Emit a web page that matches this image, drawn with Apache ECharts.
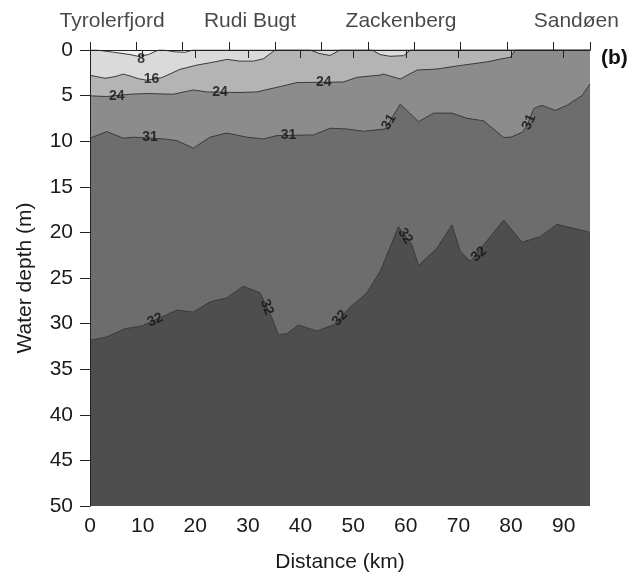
<!DOCTYPE html>
<html>
<head>
<meta charset="utf-8">
<title>Salinity section</title>
<script src="https://cdn.jsdelivr.net/npm/echarts@6/dist/echarts.min.js"></script>
<style>
  html, body { margin: 0; padding: 0; background: #ffffff; }
  #chart { width: 631px; height: 578px; }
</style>
</head>
<body>
<div id="chart"></div>
<script>
// Salinity isolines along the section: [distance km, depth m]
const contour8 = [[0,0],[1.3,0],[4.5,0.25],[7.6,0.5],[9.2,0.7],[11.1,0.5],[13.0,0],[13.9,0],[16.2,0.2],[18.1,0.25],[19.6,0],[95,0]];
const contour16 = [[0,2.78],[2.85,3.10],[4.75,2.92],[6.33,2.64],[7.61,2.85],[9.18,3.14],[10.78,3.32],[13.63,3.03],[17.11,2.12],[20.29,1.66],[23.45,1.33],[26.0,1.03],[28.52,1.22],[31.05,1.22],[32.95,0.96],[35.18,0],[41.8,0],[43.7,0.4],[45.6,0.6],[47.5,0],[53.6,0],[55.1,0.5],[57.0,0.69],[59.6,0.62],[60.9,0],[95,0]];
const contour24 = [[0,5.03],[3.18,5.10],[7.61,4.85],[10.78,4.77],[15.84,4.85],[19.64,4.38],[22.19,4.60],[28.52,4.66],[31.70,4.60],[36.13,4.01],[39.30,3.57],[48.17,3.51],[50.7,3.0],[55.14,2.75],[55.77,2.64],[58.95,3.18],[62.12,2.20],[65.92,2.09],[69.73,1.75],[72.89,1.5],[75.43,1.3],[77.96,1.0],[79.86,0.8],[80.81,0],[95,0]];
const contour31 = [[0,9.67],[3.18,8.95],[6.33,9.67],[8.23,9.56],[13.94,9.75],[16.49,9.93],[19.64,10.76],[22.82,9.56],[25.99,9.10],[29.80,9.56],[32.95,9.75],[35.50,9.39],[42.46,9.31],[45.64,8.58],[48.81,8.66],[51.97,8.91],[56.09,8.66],[58.95,5.94],[62.43,7.86],[65.28,6.92],[68.78,6.92],[71.63,7.49],[74.79,7.76],[78.6,9.6],[80.0,9.55],[82.2,9.0],[83.0,8.3],[84.3,6.45],[84.9,6.26],[85.9,6.08],[88.4,6.62],[90.6,6.08],[93.5,4.99],[95,3.73]];
const contour32 = [[0,31.83],[3.18,31.46],[6.66,30.56],[9.83,30.26],[16.49,28.52],[19.64,28.74],[22.82,27.61],[25.99,27.18],[29.15,25.90],[32.32,26.63],[34.55,29.36],[35.80,31.24],[37.40,31.10],[39.61,30.15],[43.11,30.81],[46.26,30.15],[49.44,28.19],[52.61,26.63],[55.14,24.27],[58.62,19.37],[61.17,21.37],[62.43,23.62],[65.92,21.73],[68.78,19.19],[70.36,22.09],[72.26,23.18],[78.59,18.65],[82.09,21.08],[85.57,20.46],[88.74,19.12],[95,19.99]];

// Isoline labels: [text, distance km, depth m, rotation deg]
const isoLabels = [
  ['8', 9.7, 1.05, 0],
  ['16', 11.7, 3.2, 0],
  ['24', 5.1, 5.1, 0],
  ['24', 24.7, 4.6, 0],
  ['24', 44.4, 3.55, 0],
  ['31', 11.4, 9.6, 0],
  ['31', 37.7, 9.35, 0],
  ['31', 56.8, 7.9, 59],
  ['31', 83.4, 7.9, 65],
  ['32', 12.4, 29.6, 24],
  ['32', 33.6, 28.2, -70],
  ['32', 47.5, 29.4, 47],
  ['32', 59.9, 20.4, -56],
  ['32', 73.9, 22.4, 42]
];

// Place names along the section: [name, distance km]
const stations = [['Tyrolerfjord', 4.2], ['Rudi Bugt', 30.4], ['Zackenberg', 59.1], ['Sandøen', 92.4]];

// Tick values
const distanceTicks = [0, 10, 20, 30, 40, 50, 60, 70, 80, 90];
const topTicks = [0, 8.8, 17.6, 26.4, 35.2, 44, 52.8, 61.6, 70.4, 79.2, 88, 95];
const depthTicks = [0, 5, 10, 15, 20, 25, 30, 35, 40, 45, 50];

const FONT = 'Liberation Sans, Arial, Helvetica, sans-serif';
const LINE = '#3a3a3a';

// Shade below each isoline
const bands = [
  { data: contour8, fill: '#dadada' },
  { data: contour16, fill: '#b4b4b4' },
  { data: contour24, fill: '#8c8c8c' },
  { data: contour31, fill: '#6d6d6d' },
  { data: contour32, fill: '#4e4e4e' }
];

const chart = echarts.init(document.getElementById('chart'), null, { renderer: 'canvas' });

const bandSeries = bands.map(b => ({
  type: 'line',
  data: b.data,
  symbol: 'none',
  silent: true,
  animation: false,
  lineStyle: { color: LINE, width: 1 },
  areaStyle: { color: b.fill, opacity: 1, origin: 'end' },
  z: 2
}));

const option = {
  animation: false,
  textStyle: { fontFamily: FONT },
  grid: {
    left: 90, top: 50, right: 41, bottom: 68,
    show: true, backgroundColor: '#f2f2f2', borderWidth: 0
  },
  xAxis: [
    {
      type: 'value', position: 'bottom', min: 0, max: 95, interval: 10,
      name: 'Distance (km)', nameLocation: 'middle', nameGap: 46,
      nameTextStyle: { fontSize: 21, color: '#1a1a1a', fontFamily: FONT },
      axisLine: { show: true, lineStyle: { color: '#222', width: 1 } },
      axisTick: { show: true, length: 8, customValues: distanceTicks, lineStyle: { color: '#222' } },
      axisLabel: { customValues: distanceTicks, margin: 10, fontSize: 21, color: '#1a1a1a', fontFamily: FONT },
      splitLine: { show: false },
      z: 10
    },
    {
      type: 'value', position: 'top', min: 0, max: 95, interval: 8.8,
      axisLine: { show: true, lineStyle: { color: '#222', width: 1 } },
      axisTick: { show: true, length: 8, customValues: topTicks, lineStyle: { color: '#222' } },
      axisLabel: { show: false },
      splitLine: { show: false },
      z: 10
    }
  ],
  yAxis: [
    {
      type: 'value', inverse: true, min: 0, max: 50, interval: 5,
      name: 'Water depth (m)', nameLocation: 'middle', nameGap: 54, nameRotate: 90,
      nameTextStyle: { fontSize: 21, color: '#1a1a1a', fontFamily: FONT },
      axisLine: { show: true, lineStyle: { color: '#222', width: 1 } },
      axisTick: { show: true, length: 10, customValues: depthTicks, lineStyle: { color: '#222' } },
      axisLabel: { customValues: depthTicks, margin: 17, fontSize: 21, color: '#1a1a1a', fontFamily: FONT },
      splitLine: { show: false },
      z: 10
    },
    {
      type: 'value', position: 'right', inverse: true, min: 0, max: 50,
      axisLine: { show: true, lineStyle: { color: '#222', width: 1 } },
      axisTick: { show: false },
      axisLabel: { show: false },
      splitLine: { show: false },
      z: 10
    }
  ],
  series: bandSeries.concat([
    {
      type: 'scatter',
      symbolSize: 0,
      silent: true,
      z: 6,
      data: isoLabels.map(l => ({
        name: l[0],
        value: [l[1], l[2]],
        label: { rotate: l[3] }
      })),
      label: {
        show: true, position: 'inside', formatter: '{b}',
        fontSize: 14, fontWeight: 'bold', color: '#111', fontFamily: FONT
      }
    },
    {
      type: 'scatter',
      symbolSize: 0,
      silent: true,
      clip: false,
      z: 6,
      data: stations.map(s => ({ name: s[0], value: [s[1], 0] })),
      label: {
        show: true, position: 'top', distance: 18, formatter: '{b}',
        fontSize: 21, color: '#1a1a1a', fontFamily: FONT
      }
    }
  ]),
  graphic: [
    {
      type: 'text', left: 601, top: 48,
      style: { text: '(b)', font: 'bold 21px ' + FONT, fill: '#111' }
    }
  ]
};

chart.setOption(option);
</script>
</body>
</html>
